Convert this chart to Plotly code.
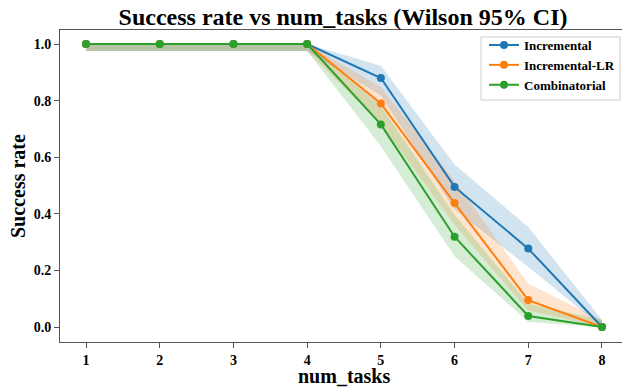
import plotly.graph_objects as go

num_tasks = [1, 2, 3, 4, 5, 6, 7, 8]
series_names = ["Incremental", "Incremental-LR", "Combinatorial"]
colors = ["#1f77b4", "#ff7f0e", "#2ca02c"]
fills = ["rgba(31,119,180,0.2)", "rgba(255,127,14,0.2)", "rgba(44,160,44,0.2)"]

incremental = [1.0, 1.0, 1.0, 1.0, 0.88, 0.495, 0.277, 0.0]
incremental_lo = [0.975, 0.975, 0.975, 0.975, 0.818, 0.416, 0.212, 0.0]
incremental_hi = [1.0, 1.0, 1.0, 1.0, 0.923, 0.574, 0.353, 0.025]

incremental_lr = [1.0, 1.0, 1.0, 1.0, 0.79, 0.438, 0.095, 0.0]
incremental_lr_lo = [0.975, 0.975, 0.975, 0.975, 0.718, 0.361, 0.058, 0.0]
incremental_lr_hi = [1.0, 1.0, 1.0, 1.0, 0.848, 0.518, 0.153, 0.025]

combinatorial = [1.0, 1.0, 1.0, 1.0, 0.716, 0.319, 0.039, 0.0]
combinatorial_lo = [0.975, 0.975, 0.975, 0.975, 0.639, 0.250, 0.018, 0.0]
combinatorial_hi = [1.0, 1.0, 1.0, 1.0, 0.782, 0.397, 0.083, 0.025]

y_ticks = [0.0, 0.2, 0.4, 0.6, 0.8, 1.0]
y_tick_labels = ["0.0", "0.2", "0.4", "0.6", "0.8", "1.0"]

series = [
    (incremental, incremental_lo, incremental_hi),
    (incremental_lr, incremental_lr_lo, incremental_lr_hi),
    (combinatorial, combinatorial_lo, combinatorial_hi),
]

FONT = "Liberation Serif"
fig = go.Figure()

for (vals, lo, hi), name, c, f in zip(series, series_names, colors, fills):
    fig.add_trace(go.Scatter(x=num_tasks, y=hi, mode="lines", line=dict(width=0),
                             showlegend=False, hoverinfo="skip"))
    fig.add_trace(go.Scatter(x=num_tasks, y=lo, mode="lines", line=dict(width=0),
                             fill="tonexty", fillcolor=f, showlegend=False, hoverinfo="skip"))

for (vals, lo, hi), name, c in zip(series, series_names, colors):
    fig.add_trace(go.Scatter(x=num_tasks, y=vals, mode="lines+markers", name=f"<b>{name}</b>",
                             line=dict(color=c, width=2),
                             marker=dict(color=c, size=8)))

# figure is slightly wider than the window: the right spine falls just outside the view
fig.update_layout(
    width=628, height=389,
    margin=dict(l=60, r=0, t=30, b=47, autoexpand=False),
    paper_bgcolor="white", plot_bgcolor="white",
    font=dict(family=FONT, color="black"),
    title=dict(text="<b>Success rate vs num_tasks (Wilson 95% CI)</b>",
               xref="container", x=0.5462, xanchor="center",
               yref="container", y=0.958, yanchor="middle",
               font=dict(family=FONT, size=24, color="black")),
    legend=dict(x=0.9859, xanchor="right", y=1.0, yanchor="top",
                bgcolor="rgba(0,0,0,0)", borderwidth=0,
                font=dict(family=FONT, size=13, color="black"),
                traceorder="normal", tracegroupgap=0, itemwidth=30),
    showlegend=True,
    shapes=[
        dict(type="rect", xref="paper", yref="paper", x0=0.7412, x1=0.9859, y0=0.7756, y1=0.9776,
             line=dict(color="#cccccc", width=1), fillcolor="rgba(255,255,255,0.8)", layer="above"),
    ],
    annotations=[
        dict(text="<b>num_tasks</b>", xref="paper", yref="paper", x=0.5, y=0,
             xanchor="center", yanchor="middle", yshift=-34, showarrow=False,
             font=dict(family=FONT, size=20, color="black")),
        dict(text="<b>Success rate</b>", xref="paper", yref="paper", x=0, y=0.5,
             xanchor="center", yanchor="middle", xshift=-42, textangle=-90, showarrow=False,
             font=dict(family=FONT, size=20, color="black")),
    ],
)

fig.update_xaxes(range=[0.647, 8.353], tickvals=num_tasks,
                 ticktext=[f"<b>{v}</b>" for v in num_tasks],
                 showgrid=False, zeroline=False, showline=True, linecolor="#555555",
                 linewidth=1, mirror=True, ticks="outside", ticklen=5, tickcolor="#555555",
                 tickfont=dict(family=FONT, size=14, color="black"), automargin=False)
fig.update_yaxes(range=[-0.053, 1.0495], tickvals=y_ticks,
                 ticktext=[f"<b>{t}</b>" for t in y_tick_labels],
                 showgrid=False, zeroline=False, showline=True, linecolor="#555555",
                 linewidth=1, ticks="outside", ticklen=5, tickcolor="#555555",
                 tickfont=dict(family=FONT, size=14, color="black"), automargin=False)

fig.write_html("out.html",
               config={"displayModeBar": False},
               post_script="document.body.style.margin='0';document.body.style.overflow='hidden';")
